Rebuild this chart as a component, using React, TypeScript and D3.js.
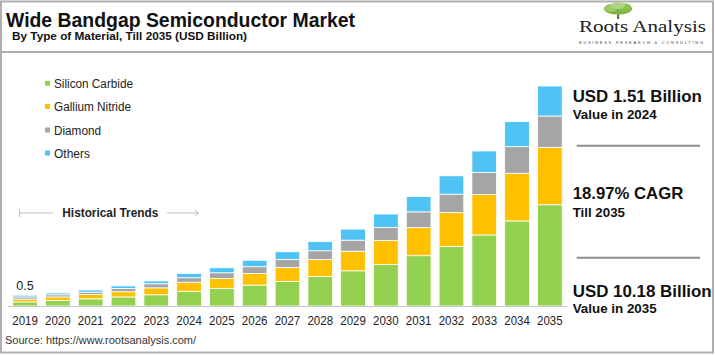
import React from "react";
import * as d3 from "d3";

const years = ["2019","2020","2021","2022","2023","2024","2025","2026","2027","2028","2029","2030","2031","2032","2033","2034","2035"];
const siliconCarbide = [0.19,0.25,0.33,0.42,0.52,0.68,0.82,0.97,1.14,1.37,1.63,1.93,2.33,2.76,3.29,3.94,4.69];
const galliumNitride = [0.13,0.17,0.20,0.24,0.32,0.42,0.46,0.54,0.65,0.79,0.91,1.11,1.30,1.57,1.88,2.21,2.66];
const diamond = [0.10,0.10,0.11,0.15,0.19,0.21,0.26,0.31,0.37,0.40,0.51,0.60,0.73,0.85,1.02,1.23,1.45];
const others = [0.08,0.08,0.10,0.12,0.13,0.20,0.23,0.30,0.35,0.42,0.51,0.62,0.71,0.85,0.99,1.16,1.39];
const seriesNames = ["Silicon Carbide","Gallium Nitride","Diamond","Others"];
const seriesColors = ["#92D050","#FFC000","#A5A5A5","#4FC3F3"];
const firstLabel = "0.5";

const W = 715, H = 355;
const FONT = "'Liberation Sans', Arial, sans-serif";

export default function App() {
  const rows = years.map((y, i) => ({
    year: y,
    "Silicon Carbide": siliconCarbide[i],
    "Gallium Nitride": galliumNitride[i],
    "Diamond": diamond[i],
    "Others": others[i],
  }));
  const stacked = d3.stack<any>().keys(seriesNames)(rows);
  const totals = rows.map((_, i) => siliconCarbide[i] + galliumNitride[i] + diamond[i] + others[i]);
  const yMax = d3.max(totals) as number;

  const x = d3.scaleBand<string>().domain(years).range([8.65, 566.25]).paddingInner(0.247).paddingOuter(0.1235);
  const y = d3.scaleLinear().domain([0, yMax]).range([306, 86]);

  return (
    <svg width={W} height={H} style={{ position: "absolute", left: 0, top: 0, display: "block" }}>
      <rect x={0} y={0} width={W} height={H} fill="#fff" />
      {/* frame */}
      <rect x={1} y={1.5} width={712} height={351} fill="none" stroke="#b0b0b0" strokeWidth={2} />
      <line x1={1} x2={713} y1={52} y2={52} stroke="#b0b0b0" strokeWidth={2} />

      {/* title */}
      <text x={6} y={26.5} fontFamily={FONT} fontWeight="bold" fontSize={21} fill="#111" textLength={349} lengthAdjust="spacingAndGlyphs">Wide Bandgap Semiconductor Market</text>
      <text x={12} y={39.5} fontFamily={FONT} fontWeight="bold" fontSize={11.5} fill="#111" textLength={235} lengthAdjust="spacingAndGlyphs">By Type of Material, Till 2035 (USD Billion)</text>

      {/* logo */}
      <g>
        <rect x={617} y={11} width={2.2} height={8} fill="#5b7d3a" />
        <ellipse cx={618} cy={9} rx={14} ry={5.5} fill="#7cb342" />
        <ellipse cx={611} cy={8} rx={6.5} ry={4} fill="#9ccc65" />
        <ellipse cx={625} cy={7.5} rx={6.5} ry={4} fill="#8bc34a" />
        <ellipse cx={618} cy={5.5} rx={7} ry={3.5} fill="#aed581" />
        <text x={579} y={32} fontFamily="'Liberation Serif', 'Times New Roman', serif" fontSize={17} fill="#222" textLength={127} lengthAdjust="spacingAndGlyphs">Roots Analysis</text>
        <text x={579} y={44} fontFamily={FONT} fontSize={4} fill="#444" textLength={124} lengthAdjust="spacing">BUSINESS RESEARCH &amp; CONSULTING</text>
      </g>

      {/* legend */}
      {seriesNames.map((n, i) => {
        const cy = [83.3, 106.5, 130, 153][i];
        const tl = [79, 77, 47, 36][i];
        return (
          <g key={n}>
            <rect x={45} y={cy - 2.5} width={5} height={5} fill={seriesColors[i]} />
            <text x={54} y={cy + 4.5} fontFamily={FONT} fontSize={12.5} fill="#222" textLength={tl} lengthAdjust="spacingAndGlyphs">{n}</text>
          </g>
        );
      })}

      {/* historical trends */}
      <g stroke="#c0c0c0" strokeWidth={1}>
        <line x1={19.5} x2={19.5} y1={209} y2={217} />
        <line x1={19.5} x2={53} y1={213} y2={213} />
        <line x1={167} x2={198} y1={213} y2={213} />
        <path d="M195,210.5 L199,213 L195,215.5" fill="none" />
      </g>
      <text x={62.3} y={217.3} fontFamily={FONT} fontWeight="bold" fontSize={12.5} fill="#222" textLength={96} lengthAdjust="spacingAndGlyphs">Historical Trends</text>

      {/* bars */}
      {stacked.map((s, si) => (
        <g key={s.key} fill={seriesColors[si]}>
          {s.map((d: any, i: number) => (
            <rect key={i} x={x(years[i])} y={y(d[1])} width={x.bandwidth()} height={Math.max(0, y(d[0]) - y(d[1]))} stroke="#fff" strokeWidth={0.8} />
          ))}
        </g>
      ))}

      {/* baseline */}
      <line x1={8} x2={567} y1={306.5} y2={306.5} stroke="#c8c8c8" strokeWidth={1} />

      {/* first value label */}
      <text x={(x(years[0]) as number) + x.bandwidth() / 2} y={290} textAnchor="middle" fontFamily={FONT} fontSize={12.5} fill="#222">{firstLabel}</text>

      {/* x labels */}
      {years.map((yr) => (
        <text key={yr} x={(x(yr) as number) + x.bandwidth() / 2} y={324.5} textAnchor="middle" fontFamily={FONT} fontSize={13.5} fill="#222" textLength={25.6} lengthAdjust="spacingAndGlyphs">{yr}</text>
      ))}

      {/* right panel */}
      <text x={572.7} y={101.7} fontFamily={FONT} fontWeight="bold" fontSize={16.5} fill="#111" textLength={129} lengthAdjust="spacingAndGlyphs">USD 1.51 Billion</text>
      <text x={572.7} y={119.3} fontFamily={FONT} fontWeight="bold" fontSize={12} fill="#111" textLength={84} lengthAdjust="spacingAndGlyphs">Value in 2024</text>
      <line x1={576.7} x2={700} y1={145.7} y2={145.7} stroke="#8c8c8c" strokeWidth={2} />
      <text x={572.7} y={199} fontFamily={FONT} fontWeight="bold" fontSize={16.5} fill="#111" textLength={110.6} lengthAdjust="spacingAndGlyphs">18.97% CAGR</text>
      <text x={572.7} y={216.7} fontFamily={FONT} fontWeight="bold" fontSize={12} fill="#111" textLength={52.3} lengthAdjust="spacingAndGlyphs">Till 2035</text>
      <line x1={576.7} x2={700} y1={257.7} y2={257.7} stroke="#8c8c8c" strokeWidth={2} />
      <text x={572.7} y={296.7} fontFamily={FONT} fontWeight="bold" fontSize={16.5} fill="#111" textLength={139} lengthAdjust="spacingAndGlyphs">USD 10.18 Billion</text>
      <text x={572.7} y={313.3} fontFamily={FONT} fontWeight="bold" fontSize={12} fill="#111" textLength={84} lengthAdjust="spacingAndGlyphs">Value in 2035</text>

      {/* source */}
      <text x={5} y={344} fontFamily={FONT} fontSize={10.5} fill="#333" textLength={191} lengthAdjust="spacingAndGlyphs">Source: https://www.rootsanalysis.com/</text>
    </svg>
  );
}
